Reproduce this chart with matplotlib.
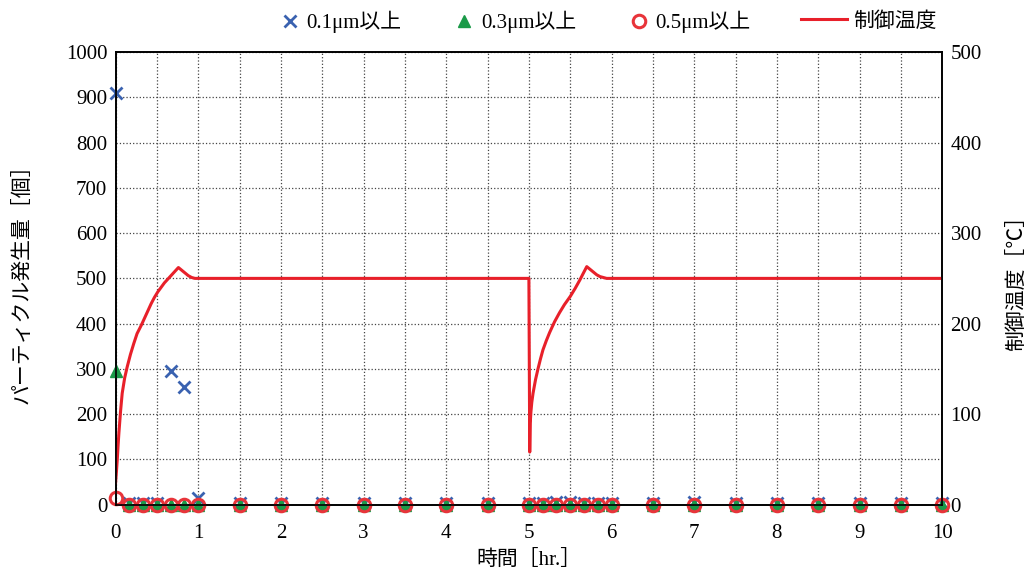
import matplotlib
matplotlib.use('Agg')
import matplotlib.pyplot as plt
from matplotlib.ticker import MultipleLocator

plt.rcParams['font.family'] = ['Liberation Serif', 'Noto Sans CJK JP', 'DejaVu Sans']

# Particle sampling times [hr] and counts
sample_time = [0, 0.167, 0.333, 0.5, 0.667, 0.833, 1.0, 1.5, 2, 2.5, 3, 3.5, 4, 4.5,
               5.0, 5.167, 5.333, 5.5, 5.667, 5.833, 6.0, 6.5, 7, 7.5, 8, 8.5, 9, 9.5, 10]
count_01 = [910, 3, 4, 4, 295, 260, 15, 3, 3, 4, 4, 3, 3, 3,
            4, 4, 5, 5, 4, 4, 3, 3, 5, 4, 4, 4, 3, 3, 3]
count_03 = [295, 0, 0, 0, 0, 0, 0, 0, 0, 0, 0, 0, 0, 0,
            0, 0, 0, 0, 0, 0, 0, 0, 0, 0, 0, 0, 0, 0, 0]
count_05 = [15, 0, 0, 0, 0, 0, 0, 0, 0, 0, 0, 0, 0, 0,
            0, 0, 0, 0, 0, 0, 0, 0, 0, 0, 0, 0, 0, 0, 0]

# Control temperature [deg C]
temp_time = [0, 0.005, 0.01, 0.02, 0.03, 0.04, 0.06, 0.08, 0.11, 0.14, 0.18, 0.22, 0.26,
             0.31, 0.35, 0.39, 0.43, 0.47, 0.51, 0.55, 0.59, 0.63, 0.67, 0.70, 0.73,
             0.76, 0.80, 0.84, 0.88, 0.92, 0.96, 1.0, 2, 3, 4,
             5.0, 5.01, 5.013, 5.016, 5.025, 5.035, 5.05, 5.08, 5.11, 5.14, 5.17, 5.21,
             5.25, 5.31, 5.37, 5.43, 5.5, 5.56, 5.615, 5.66, 5.70, 5.74, 5.78, 5.82,
             5.86, 5.90, 5.94, 7, 8, 9, 10]
temp_value = [24, 30, 36, 49, 65, 79, 103, 123, 140, 152, 166, 178, 189,
              198, 206, 214, 222, 229, 235, 240, 245, 249, 253, 256, 259,
              262, 259, 256, 253, 251, 250, 250, 250, 250, 250,
              250, 58, 75, 90, 103, 113, 123, 138, 150, 161, 171, 181,
              190, 202, 212, 221, 230, 239, 248, 256, 263, 260, 257, 254,
              252, 251, 250, 250, 250, 250, 250]

fig = plt.figure(figsize=(10.32, 5.74), dpi=100)
ax = fig.add_axes([0.112, 0.121, 0.801, 0.788])
ax2 = ax.twinx()

m1, = ax.plot(sample_time, count_01, linestyle='none', marker='x', color='#3a62b0',
              markersize=9, markeredgewidth=2, zorder=3, clip_on=False)
m2, = ax.plot(sample_time, count_03, linestyle='none', marker='^', color='#1a9a48',
              markersize=8, zorder=4, clip_on=False)
m3, = ax.plot(sample_time, count_05, linestyle='none', marker='o', markerfacecolor='none',
              markeredgecolor='#e8343a', markersize=9, markeredgewidth=2.2,
              zorder=5, clip_on=False)
l1, = ax2.plot(temp_time, temp_value, color='#e8202a', linewidth=2.2)

ax.set_xlim(0, 10)
ax.set_ylim(0, 1000)
ax2.set_ylim(0, 500)
ax.xaxis.set_major_locator(MultipleLocator(1))
ax.xaxis.set_minor_locator(MultipleLocator(0.5))
ax.yaxis.set_major_locator(MultipleLocator(100))
ax2.yaxis.set_major_locator(MultipleLocator(100))

ax.grid(True, which='both', axis='x', linestyle=':', color='#444444', linewidth=0.9)
ax.grid(True, which='major', axis='y', linestyle=':', color='#444444', linewidth=0.9)
ax.set_axisbelow(True)

for a in (ax, ax2):
    a.tick_params(which='both', length=0, labelsize=15, pad=6)
    for s in a.spines.values():
        s.set_linewidth(1.2)
ax.tick_params(axis='x', pad=14)

ax.set_xlabel('時間［hr.］', fontsize=15, labelpad=5)
ax.set_ylabel('パーティクル発生量［個］', fontsize=15, labelpad=24)
ax2.set_ylabel('制御温度［℃］', fontsize=15, rotation=90, labelpad=18)

fig.legend([m1, m2, m3], ['0.1μm以上', '0.3μm以上', '0.5μm以上'], loc='center',
           bbox_to_anchor=(0.50, 0.962), ncol=3, frameon=False, fontsize=15,
           handlelength=0.8, columnspacing=2.6, handletextpad=0.4)
fig.legend([l1], ['制御温度'], loc='center', bbox_to_anchor=(0.842, 0.962),
           frameon=False, fontsize=15, handlelength=2.2, handletextpad=0.3)

plt.savefig('out.png', dpi=100)
